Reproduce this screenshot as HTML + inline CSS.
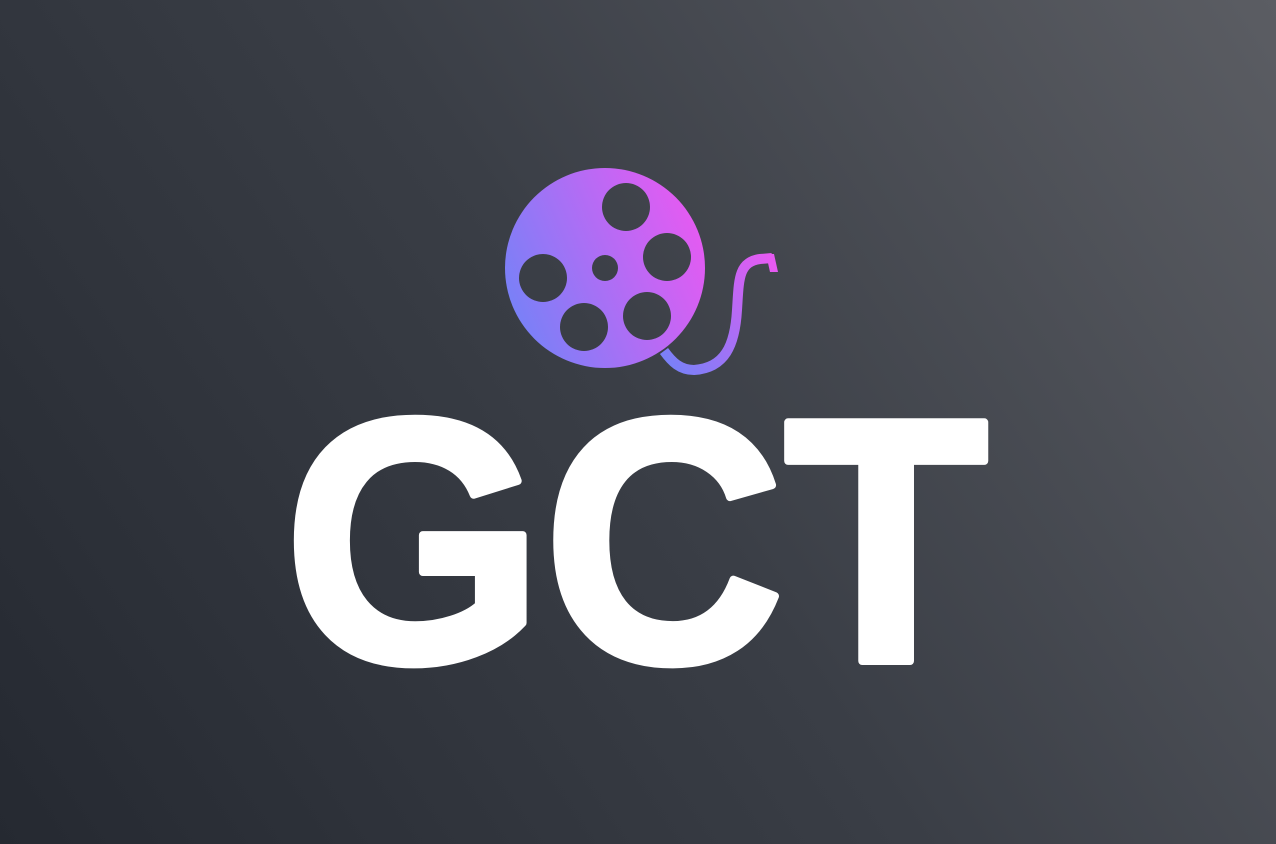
<!DOCTYPE html>
<html>
<head>
<meta charset="utf-8">
<style>
  html,body{margin:0;padding:0;width:1276px;height:844px;overflow:hidden;}
  svg{display:block;}
</style>
</head>
<body>
<svg width="1276" height="844" viewBox="0 0 1276 844">
  <defs>
    <linearGradient id="bg" x1="0" y1="844" x2="1276" y2="0" gradientUnits="userSpaceOnUse">
      <stop offset="0" stop-color="#252931"/>
      <stop offset="0.5" stop-color="#3a3e46"/>
      <stop offset="1" stop-color="#5b5d63"/>
    </linearGradient>
    <linearGradient id="reel" x1="510" y1="300" x2="700" y2="220" gradientUnits="userSpaceOnUse">
      <stop offset="0" stop-color="#7a80f7"/>
      <stop offset="1" stop-color="#e65af2"/>
    </linearGradient>
    <linearGradient id="strip" x1="665" y1="360" x2="775" y2="260" gradientUnits="userSpaceOnUse">
      <stop offset="0" stop-color="#7a80f7"/>
      <stop offset="1" stop-color="#e65af2"/>
    </linearGradient>
    <mask id="holes">
      <rect x="0" y="0" width="1276" height="844" fill="#fff"/>
      <circle cx="605" cy="268" r="13" fill="#000"/>
      <circle cx="626" cy="207" r="24" fill="#000"/>
      <circle cx="667" cy="257" r="24" fill="#000"/>
      <circle cx="647" cy="316" r="24" fill="#000"/>
      <circle cx="584" cy="327" r="24" fill="#000"/>
      <circle cx="543" cy="278" r="24" fill="#000"/>
    </mask>
  </defs>
  <rect x="0" y="0" width="1276" height="844" fill="url(#bg)"/>
  <g>
    <circle cx="605" cy="268" r="100" fill="url(#reel)" mask="url(#holes)"/>
    <path d="M664 351 C672 362 680 370 694 370 C725 368 735 345 737 310 C739 280 738 262 760 259 L772 258"
          fill="none" stroke="url(#strip)" stroke-width="10" stroke-linecap="butt"/>
    <path d="M766 254 L774 254 L778 272 L770 272 Z" fill="#e65af2"/>
  </g>
  <text x="284" y="661" textLength="704" lengthAdjust="spacingAndGlyphs"
        font-family="'Liberation Sans', Arial, sans-serif" font-weight="700" font-size="347"
        fill="#ffffff" stroke="#ffffff" stroke-width="8" stroke-linejoin="round"
       >GCT</text>
</svg>
</body>
</html>
